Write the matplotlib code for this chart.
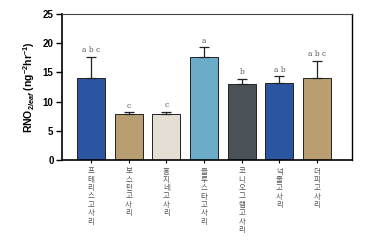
import matplotlib
matplotlib.use("Agg")
import matplotlib.pyplot as plt

plt.rcParams["mathtext.fontset"] = "custom"
plt.rcParams["mathtext.rm"] = "Liberation Sans:bold"
plt.rcParams["mathtext.it"] = "Liberation Sans:italic:bold"
plt.rcParams["mathtext.bf"] = "Liberation Sans:bold"

categories = ["프테리스고사리", "보스턴고사리", "홍지네고사리", "블루스타고사리",
              "코니오그램고사리", "넉줄고사리", "더피고사리"]
values = [14.0, 7.8, 7.9, 17.7, 13.0, 13.2, 14.0]
errors = [3.7, 0.4, 0.4, 1.6, 0.9, 1.2, 3.0]
letters = ["a b c", "c", "c", "a", "b", "a b", "a b c"]
colors = ["#2b55a1", "#b89e70", "#e4ded4", "#6badc8", "#4b5257", "#2b55a1", "#b89e70"]
yticks = [0, 5, 10, 15, 20, 25]

fig = plt.figure(figsize=(3.75, 2.42), dpi=100)
ax = fig.add_axes([0.165, 0.339, 0.774, 0.603])
x = list(range(len(categories)))
ax.bar(x, values, width=0.74, color=colors, edgecolor="#222222", linewidth=0.7, zorder=2)
ax.errorbar(x, values, yerr=[[0]*len(x), errors], fmt="none", ecolor="#222222",
            elinewidth=0.9, capsize=3.5, capthick=0.9, zorder=3)
for xi, v, e, l in zip(x, values, errors, letters):
    ax.text(xi, v + e + 0.4, l, ha="center", va="bottom", fontsize=5.4,
            color="#555555", family="DejaVu Serif")

ax.set_xlim(-0.77, 6.93)
ax.set_ylim(0, 25)
ax.set_yticks(yticks)
ax.set_yticklabels([str(t) for t in yticks], fontsize=7, fontweight="bold",
                   family="Liberation Sans")
ax.set_xticks(x)
ax.set_xticklabels(["\n".join(c) for c in categories], fontsize=5.4, color="#555555",
                   family="Noto Sans CJK KR", linespacing=1.06)
ax.tick_params(axis="y", length=4, width=1.0, pad=2)
ax.tick_params(axis="x", length=2.5, width=0.8, pad=3)
for s in ["left", "bottom"]:
    ax.spines[s].set_linewidth(1.2)
ax.spines["top"].set_linewidth(0.8)
ax.spines["top"].set_color("#444444")
ax.spines["right"].set_linewidth(1.0)

ax.set_ylabel(r"RNO$_{2leaf}$ (ng$^{-2}$hr$^{-1}$)", fontsize=7.5, fontweight="bold",
              family="Liberation Sans", labelpad=4)

fig.savefig("out.png", dpi=100)
